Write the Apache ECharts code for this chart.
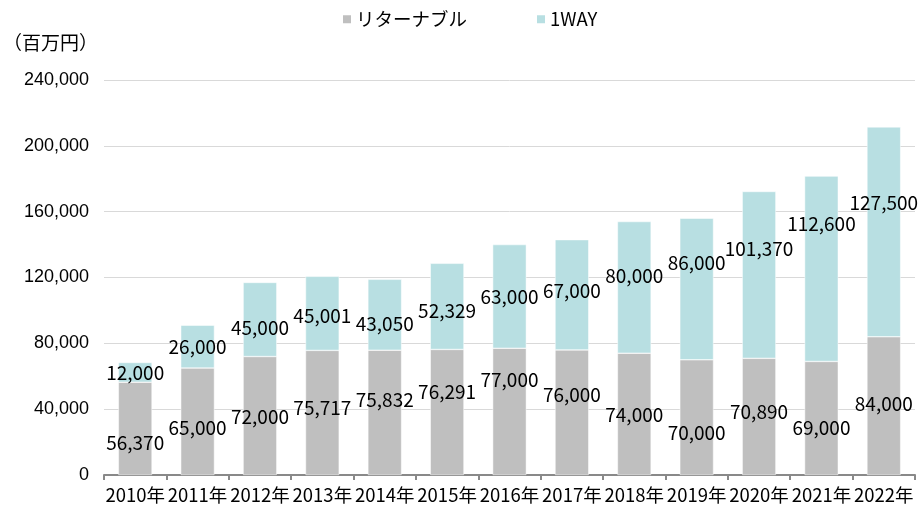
<!DOCTYPE html>
<html><head><meta charset="utf-8">
<script src="https://cdn.jsdelivr.net/npm/echarts@6/dist/echarts.min.js"></script>
<style>html,body{margin:0;padding:0;background:#fff}#c{width:918px;height:514px}</style>
</head><body><div id="c"></div>
<script>
const categories = ['2010年','2011年','2012年','2013年','2014年','2015年','2016年','2017年','2018年','2019年','2020年','2021年','2022年'];
const returnable = [56370,65000,72000,75717,75832,76291,77000,76000,74000,70000,70890,69000,84000];
const oneway = [12000,26000,45000,45001,43050,52329,63000,67000,80000,86000,101370,112600,127500];
const yTicks = [0,40000,80000,120000,160000,200000,240000];

// label placement tweaks (style only, vertical pixel shifts as in the original)
const shiftReturnable = [14,6,1,-5,-13,-20,-32,-18,1,15,-5,10,-2];
const shiftOneway = [0,0,8,2,9,4,0,-4,-12,-26,-26,-45,-29];

const FONT = "'Noto Sans CJK JP','Noto Sans',sans-serif";
const fmt = v => v.toLocaleString('en-US');
const mkData = (vals, shifts) => vals.map((v,i)=>({value:v,label:{offset:[0,shifts[i]]}}));
const lbl = {show:true,position:'inside',fontSize:19,color:'#000',formatter:p=>fmt(p.value),fontFamily:FONT};

const chart = echarts.init(document.getElementById('c'));
chart.setOption({
  animation:false,
  textStyle:{fontFamily:FONT},
  legend:{top:5,left:336,itemWidth:10,itemHeight:10,itemGap:68,icon:'rect',
    textStyle:{fontSize:18.5,color:'#000',fontFamily:FONT,padding:[0,0,0,-1]},
    data:['リターナブル','1WAY']},
  grid:{left:100,right:3,top:80,bottom:39},
  xAxis:{type:'category',data:categories,
    axisLine:{lineStyle:{color:'#898989',width:2}},
    axisTick:{show:true,lineStyle:{color:'#898989',width:2},length:5},
    axisLabel:{interval:0,fontSize:18.5,color:'#000',margin:11,fontFamily:FONT}},
  yAxis:{type:'value',min:yTicks[0],max:yTicks[yTicks.length-1],interval:40000,
    name:'（百万円）',nameLocation:'end',nameGap:0,
    nameTextStyle:{fontSize:19,color:'#000',align:'left',verticalAlign:'bottom',padding:[0,0,28,-101],fontFamily:FONT},
    axisLine:{show:false},axisTick:{show:false},
    splitLine:{lineStyle:{color:'#D9D9D9',width:1}},
    axisLabel:{fontSize:18,color:'#000',margin:15,formatter:v=>fmt(v),fontFamily:"'Liberation Sans',Arial,sans-serif"}},
  series:[
    {name:'リターナブル',type:'bar',stack:'t',data:mkData(returnable,shiftReturnable),barWidth:'54%',
     itemStyle:{color:'#BFBFBF',borderColor:'#fff',borderWidth:0.5},label:lbl},
    {name:'1WAY',type:'bar',stack:'t',data:mkData(oneway,shiftOneway),
     itemStyle:{color:'#B8DFE2',borderColor:'#fff',borderWidth:0.5},label:lbl}
  ]
});
</script></body></html>
